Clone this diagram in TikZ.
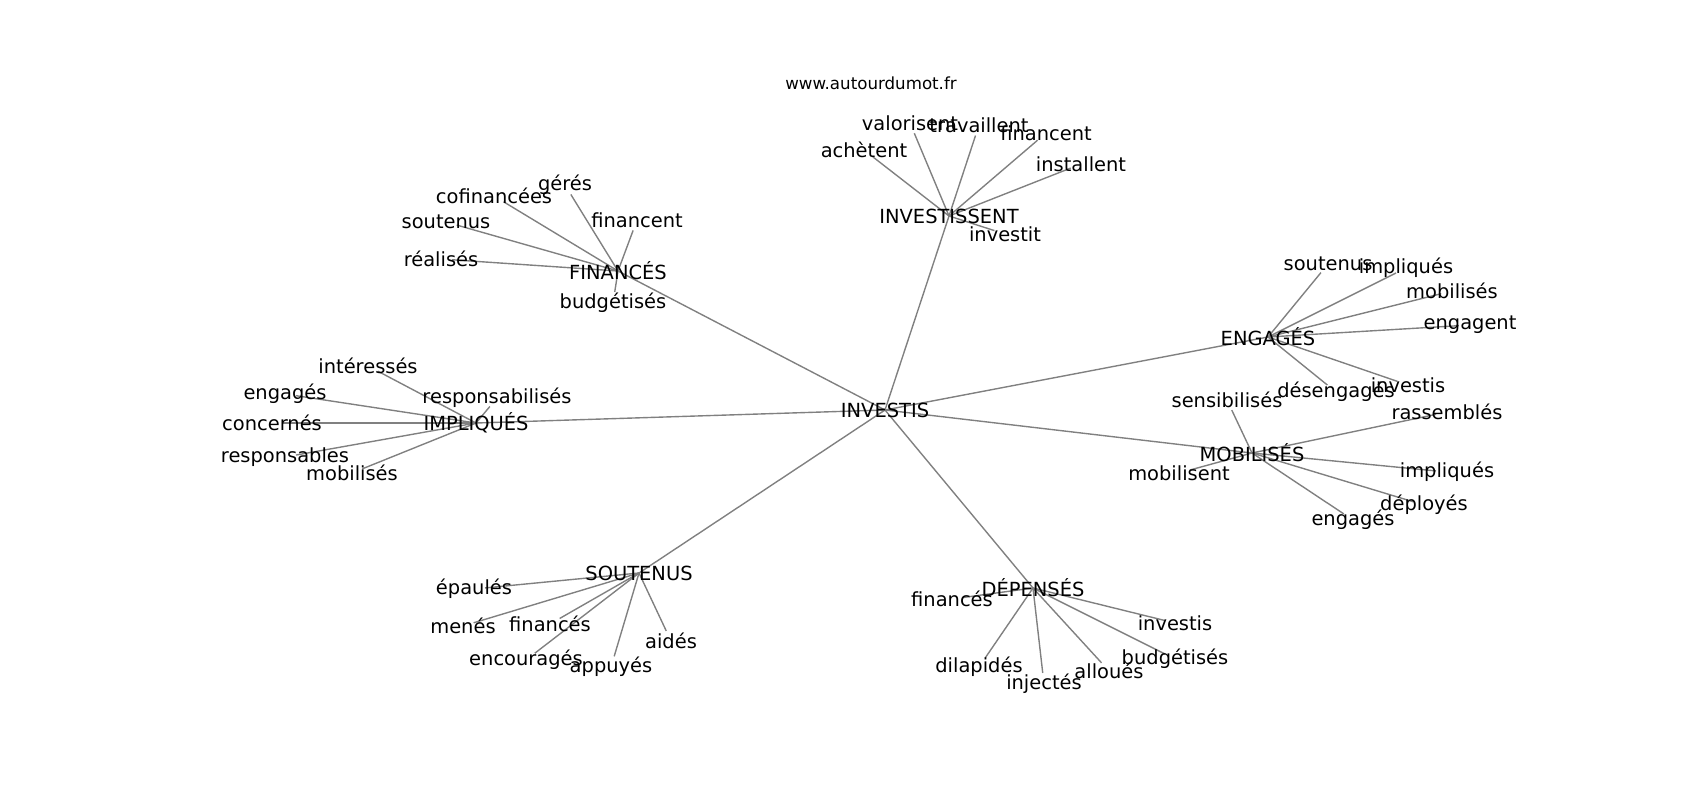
\documentclass[tikz,border=0pt]{standalone}
\usepackage{fontspec}
\setmainfont{DejaVu Sans}
\usepackage{tikz}
\usetikzlibrary{backgrounds}

\begin{document}
\begin{tikzpicture}[
	x=0.72pt, y=-0.72pt,
	word/.style={inner sep=0pt, font=\fontsize{14}{16}\selectfont},
	site/.style={inner sep=0pt, font=\fontsize{12}{14}\selectfont},
	link/.style={draw=gray, line width=1pt},
	leaf/.style={link, shorten >=8pt}
	]
	\useasboundingbox (0,0) rectangle (1700,800);
	
	% Nodes
	\node (site) [site] at (871,83) {www.autourdumot.fr};
	\node (investis) [word] at (885,410) {INVESTIS};
	
	\node (finances) [word] at (618,271) {FINANCÉS};
	\node (fin-geres) [word] at (565,185) {gérés};
	\node (fin-cofin) [word] at (494,196) {cofinancées};
	\node (fin-soutenus) [word] at (446,222) {soutenus};
	\node (fin-realises) [word] at (441,259) {réalisés};
	\node (fin-financent) [word] at (637,220) {financent};
	\node (fin-budget) [word] at (613,303) {budgétisés};
	
	\node (investissent) [word] at (949,216) {INVESTISSENT};
	\node (inv-valorisent) [word] at (910,123) {valorisent};
	\node (inv-travaillent) [word] at (979,125) {travaillent};
	\node (inv-financent) [word] at (1046,133) {financent};
	\node (inv-installent) [word] at (1081,164) {installent};
	\node (inv-achetent) [word] at (864,150) {achètent};
	\node (inv-investit) [word] at (1005,234) {investit};
	
	\node (engages) [word] at (1268,337) {ENGAGÉS};
	\node (eng-soutenus) [word] at (1328,264) {soutenus};
	\node (eng-impliques) [word] at (1406,268) {impliqués};
	\node (eng-mobilises) [word] at (1452,291) {mobilisés};
	\node (eng-engagent) [word] at (1470,325) {engagent};
	\node (eng-investis) [word] at (1408,385) {investis};
	\node (eng-desengages) [word] at (1336,392) {désengagés};
	
	\node (mobilises) [word] at (1252,453) {MOBILISÉS};
	\node (mob-sensib) [word] at (1227,400) {sensibilisés};
	\node (mob-rassembles) [word] at (1447,412) {rassemblés};
	\node (mob-impliques) [word] at (1447,472) {impliqués};
	\node (mob-deployes) [word] at (1424,505) {déployés};
	\node (mob-engages) [word] at (1353,520) {engagés};
	\node (mob-mobilisent) [word] at (1179,473) {mobilisent};
	
	\node (impliques) [word] at (476,423) {IMPLIQUÉS};
	\node (imp-interesses) [word] at (368,366) {intéressés};
	\node (imp-respbil) [word] at (497,398) {responsabilisés};
	\node (imp-engages) [word] at (285,394) {engagés};
	\node (imp-concernes) [word] at (272,423) {concernés};
	\node (imp-responsables) [word] at (285,457) {responsables};
	\node (imp-mobilises) [word] at (352,473) {mobilisés};
	
	\node (soutenus) [word] at (639,573) {SOUTENUS};
	\node (sou-epaules) [word] at (474,589) {épaulés};
	\node (sou-menes) [word] at (463,626) {menés};
	\node (sou-finances) [word] at (550,624) {financés};
	\node (sou-encourages) [word] at (526,660) {encouragés};
	\node (sou-appuyes) [word] at (611,667) {appuyés};
	\node (sou-aides) [word] at (671,641) {aidés};
	
	\node (depenses) [word] at (1033,588) {DÉPENSÉS};
	\node (dep-finances) [word] at (952,599) {financés};
	\node (dep-investis) [word] at (1175,623) {investis};
	\node (dep-budget) [word] at (1175,659) {budgétisés};
	\node (dep-dilapides) [word] at (979,667) {dilapidés};
	\node (dep-injectes) [word] at (1044,684) {injectés};
	\node (dep-alloues) [word] at (1109,671) {alloués};
	
	% Edges
	\begin{scope}[on background layer]
		\draw[link] (investis.center) -- (finances.center);
		\draw[link] (investis.center) -- (investissent.center);
		\draw[link] (investis.center) -- (engages.center);
		\draw[link] (investis.center) -- (mobilises.center);
		\draw[link] (investis.center) -- (impliques.center);
		\draw[link] (investis.center) -- (soutenus.center);
		\draw[link] (investis.center) -- (depenses.center);
		
		\draw[leaf] (finances.center) -- (fin-geres.center);
		\draw[leaf] (finances.center) -- (fin-cofin.center);
		\draw[leaf] (finances.center) -- (fin-soutenus.center);
		\draw[leaf] (finances.center) -- (fin-realises.center);
		\draw[leaf] (finances.center) -- (fin-financent.center);
		\draw[leaf] (finances.center) -- (fin-budget.center);
		
		\draw[leaf] (investissent.center) -- (inv-valorisent.center);
		\draw[leaf] (investissent.center) -- (inv-travaillent.center);
		\draw[leaf] (investissent.center) -- (inv-financent.center);
		\draw[leaf] (investissent.center) -- (inv-installent.center);
		\draw[leaf] (investissent.center) -- (inv-achetent.center);
		\draw[leaf] (investissent.center) -- (inv-investit.center);
		
		\draw[leaf] (engages.center) -- (eng-soutenus.center);
		\draw[leaf] (engages.center) -- (eng-impliques.center);
		\draw[leaf] (engages.center) -- (eng-mobilises.center);
		\draw[leaf] (engages.center) -- (eng-engagent.center);
		\draw[leaf] (engages.center) -- (eng-investis.center);
		\draw[leaf] (engages.center) -- (eng-desengages.center);
		
		\draw[leaf] (mobilises.center) -- (mob-sensib.center);
		\draw[leaf] (mobilises.center) -- (mob-rassembles.center);
		\draw[leaf] (mobilises.center) -- (mob-impliques.center);
		\draw[leaf] (mobilises.center) -- (mob-deployes.center);
		\draw[leaf] (mobilises.center) -- (mob-engages.center);
		\draw[leaf] (mobilises.center) -- (mob-mobilisent.center);
		
		\draw[leaf] (impliques.center) -- (imp-interesses.center);
		\draw[leaf] (impliques.center) -- (imp-respbil.center);
		\draw[leaf] (impliques.center) -- (imp-engages.center);
		\draw[leaf] (impliques.center) -- (imp-concernes.center);
		\draw[leaf] (impliques.center) -- (imp-responsables.center);
		\draw[leaf] (impliques.center) -- (imp-mobilises.center);
		
		\draw[leaf] (soutenus.center) -- (sou-epaules.center);
		\draw[leaf] (soutenus.center) -- (sou-menes.center);
		\draw[leaf] (soutenus.center) -- (sou-finances.center);
		\draw[leaf] (soutenus.center) -- (sou-encourages.center);
		\draw[leaf] (soutenus.center) -- (sou-appuyes.center);
		\draw[leaf] (soutenus.center) -- (sou-aides.center);
		
		\draw[leaf] (depenses.center) -- (dep-finances.center);
		\draw[leaf] (depenses.center) -- (dep-investis.center);
		\draw[leaf] (depenses.center) -- (dep-budget.center);
		\draw[leaf] (depenses.center) -- (dep-dilapides.center);
		\draw[leaf] (depenses.center) -- (dep-injectes.center);
		\draw[leaf] (depenses.center) -- (dep-alloues.center);
	\end{scope}
	
\end{tikzpicture}
\end{document}
